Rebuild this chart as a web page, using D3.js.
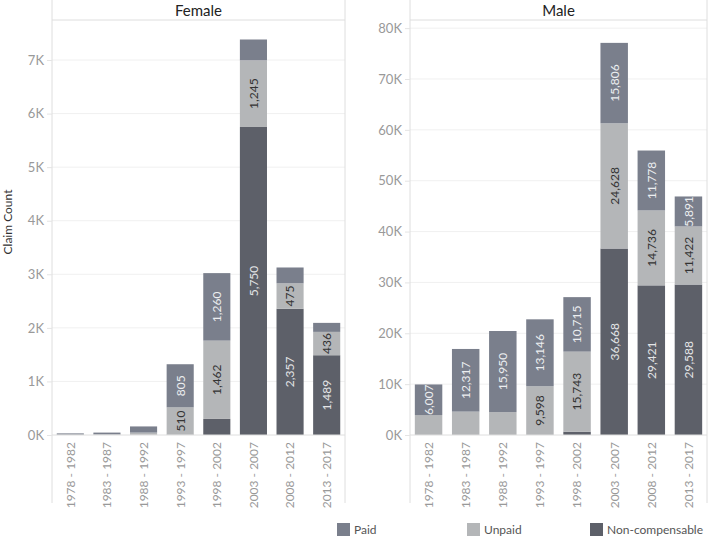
<!DOCTYPE html>
<html>
<head>
<meta charset="utf-8">
<script src="https://cdn.jsdelivr.net/npm/d3@7"></script>
<style>
  body { margin: 0; background: #fff; }
  text { font-family: Lato, "Open Sans", sans-serif; }
</style>
</head>
<body>
<svg id="chart" width="709" height="538"></svg>
<script>
const periods = ['1978 - 1982', '1983 - 1987', '1988 - 1992', '1993 - 1997',
                 '1998 - 2002', '2003 - 2007', '2008 - 2012', '2013 - 2017']
const seriesKeys = ['Non-compensable', 'Unpaid', 'Paid']

const femaleNonComp = [3, 5, 5, 6, 300, 5750, 2357, 1489]
const femaleUnpaid = [5, 8, 40, 510, 1462, 1245, 475, 436]
const femalePaid = [22, 32, 115, 805, 1260, 388, 295, 168]

const maleNonComp = [0, 0, 0, 0, 650, 36668, 29421, 29588]
const maleUnpaid = [3930, 4600, 4500, 9598, 15743, 24628, 14736, 11422]
const malePaid = [6007, 12317, 15950, 13146, 10715, 15806, 11778, 5891]

const femaleTicks = [0, 1000, 2000, 3000, 4000, 5000, 6000, 7000]
const maleTicks = [0, 10000, 20000, 30000, 40000, 50000, 60000, 70000, 80000]

const COLORS = { 'Paid': '#7a7f8c', 'Unpaid': '#b4b6b8', 'Non-compensable': '#5d6069' }
const LABEL_COLORS = { 'Paid': '#eceef0', 'Unpaid': '#333', 'Non-compensable': '#e4e5e7' }

const TOP = 20
const BASE = 435
const PANE_BOTTOM = 503

const panels = [
    { name: 'Female', x0: 52, x1: 345, max: 7747, ticks: femaleTicks, minLabel: 400,
      nc: femaleNonComp, unpaid: femaleUnpaid, paid: femalePaid },
    { name: 'Male', x0: 410, x1: 707, max: 81600, ticks: maleTicks, minLabel: 5000,
      nc: maleNonComp, unpaid: maleUnpaid, paid: malePaid }
]

const svg = d3.select('#chart')
const fmt = d3.format(',')

panels.forEach(p => {
    const rows = periods.map((period, i) => ({
        period,
        'Non-compensable': p.nc[i],
        'Unpaid': p.unpaid[i],
        'Paid': p.paid[i]
    }))
    const stacked = d3.stack().keys(seriesKeys)(rows)

    const x = d3.scaleBand().domain(periods).range([p.x0, p.x1])
        .paddingInner(0.26).paddingOuter(0.13)
    const y = d3.scaleLinear().domain([0, p.max]).range([BASE, TOP])

    const g = svg.append('g')

    // gridlines
    g.selectAll('.grid')
        .data(p.ticks.slice(1))
        .enter().append('line')
        .attr('x1', p.x0).attr('x2', p.x1)
        .attr('y1', d => y(d)).attr('y2', d => y(d))
        .attr('stroke', '#f0f0f0')

    // pane borders and header line
    g.append('line').attr('x1', p.x0).attr('x2', p.x0).attr('y1', 0).attr('y2', PANE_BOTTOM)
        .attr('stroke', '#dedede')
    g.append('line').attr('x1', p.x1).attr('x2', p.x1).attr('y1', 0).attr('y2', PANE_BOTTOM)
        .attr('stroke', '#dedede')
    g.append('line').attr('x1', p.x0).attr('x2', p.x1).attr('y1', TOP).attr('y2', TOP)
        .attr('stroke', '#dedede')

    g.append('text')
        .attr('x', (p.x0 + p.x1) / 2).attr('y', 16)
        .attr('text-anchor', 'middle')
        .attr('font-size', 15).attr('fill', '#222')
        .text(p.name)

    // y axis
    const yAxis = d3.axisLeft(y).tickValues(p.ticks).tickSize(5).tickPadding(3)
        .tickFormat(d => (d / 1000) + 'K')
    const ya = g.append('g').attr('transform', `translate(${p.x0},0)`).call(yAxis)
    ya.select('.domain').remove()
    ya.selectAll('.tick line').attr('stroke', '#e4e4e4')
    ya.selectAll('.tick text').attr('fill', '#999').attr('font-size', 13)
        .style('font-family', 'Lato, sans-serif')

    // bars
    stacked.forEach(layer => {
        g.selectAll(null)
            .data(layer)
            .enter().append('rect')
            .attr('x', d => x(d.data.period))
            .attr('width', x.bandwidth())
            .attr('y', d => y(d[1]))
            .attr('height', d => y(d[0]) - y(d[1]))
            .attr('fill', COLORS[layer.key])

        g.selectAll(null)
            .data(layer.filter(d => d[1] - d[0] >= p.minLabel))
            .enter().append('text')
            .attr('transform', d => `translate(${x(d.data.period) + x.bandwidth() / 2},${(y(d[0]) + y(d[1])) / 2}) rotate(-90)`)
            .attr('text-anchor', 'middle')
            .attr('dy', '0.36em')
            .attr('font-size', 12)
            .attr('fill', LABEL_COLORS[layer.key])
            .text(d => fmt(d[1] - d[0]))
    })

    // baseline
    g.append('line').attr('x1', p.x0).attr('x2', p.x1).attr('y1', BASE).attr('y2', BASE)
        .attr('stroke', '#dedede')

    // x labels
    g.selectAll('.xl')
        .data(periods)
        .enter().append('text')
        .attr('transform', d => `translate(${x(d) + x.bandwidth() / 2},${BASE + 7}) rotate(-90)`)
        .attr('text-anchor', 'end')
        .attr('dy', '0.36em')
        .attr('font-size', 12)
        .attr('fill', '#999')
        .text(d => d)
})

svg.append('text')
    .attr('transform', 'translate(8,222) rotate(-90)')
    .attr('text-anchor', 'middle')
    .attr('dy', '0.36em')
    .attr('font-size', 12)
    .attr('fill', '#333')
    .text('Claim Count')

// legend
const legendKeys = ['Paid', 'Unpaid', 'Non-compensable']
const legendX = [337, 467, 590]
const lg = svg.selectAll('.legend')
    .data(legendKeys)
    .enter().append('g')
    .attr('transform', (d, i) => `translate(${legendX[i]},523)`)
lg.append('rect').attr('width', 13).attr('height', 13).attr('fill', d => COLORS[d])
lg.append('text').attr('x', 17).attr('y', 11).attr('font-size', 12).attr('fill', '#555').text(d => d)
</script>
</body>
</html>
